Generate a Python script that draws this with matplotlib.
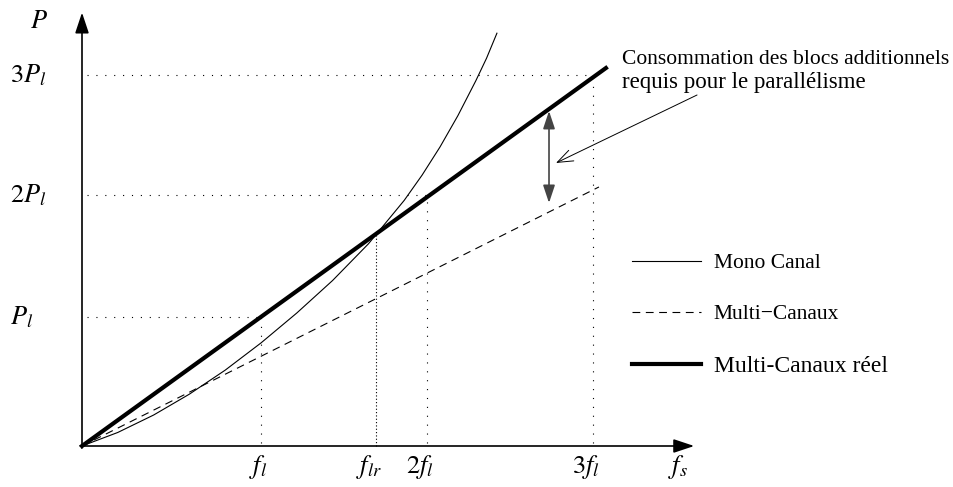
import matplotlib
matplotlib.use("Agg")
import matplotlib.pyplot as plt
import numpy as np

plt.rcParams['font.family'] = ['Liberation Serif', 'DejaVu Serif']
plt.rcParams['mathtext.fontset'] = 'stix'

# data units: f_l = 1 on x, P_l = 1 on y (schematic)
xtick_pos = [1.0, 1.642, 1.927, 2.855]
xtick_labels = ['$f_l$', '$f_{lr}$', '$2f_l$', '$3f_l$']
ytick_pos = [1.0, 1.946, 2.876]
ytick_labels = ['$P_l$', '$2P_l$', '$3P_l$']

# mono canal curve
mono_x = [0.0, 0.2, 0.4, 0.6, 0.8, 1.0, 1.2, 1.4, 1.6, 1.8, 1.9, 2.0, 2.1, 2.2, 2.26, 2.318]
mono_y = [0.0, 0.105, 0.24, 0.402, 0.588, 0.799, 1.031, 1.283, 1.567, 1.904, 2.1,
          2.318, 2.561, 2.831, 3.006, 3.2]

# multi-canaux (dashed) and multi-canaux reel (thick)
multi_x = [0.0, 2.888]
multi_y = [0.0, 2.008]
reel_x = [0.0, 2.927]
reel_y = [0.0, 2.93]

legend_labels = ['Mono Canal', 'Multi\u2212Canaux', 'Multi-Canaux réel']

fig = plt.figure(figsize=(9.54, 4.87), dpi=100)
ax = fig.add_axes([0, 0, 1, 1])
ax.set_xlim(-82 / 179, (954 - 82) / 179)
ax.set_ylim(-41 / 129, 446 / 129)
ax.axis('off')

# axes with arrows
arr = dict(arrowstyle='-|>,head_length=0.9,head_width=0.3', lw=1.2, color='k',
           mutation_scale=14, shrinkA=0, shrinkB=0)
ax.annotate('', xy=(3.42, 0), xytext=(-0.01, 0), arrowprops=arr)
ax.annotate('', xy=(0, 3.36), xytext=(0, -0.015), arrowprops=arr)

dot = dict(color='k', lw=0.8, dashes=(1, 7))
# dotted guides
guide_x = [xtick_pos[0], xtick_pos[2], xtick_pos[3]]
for xp, yp in zip(guide_x, ytick_pos):
    ax.plot([0.03, xp], [yp, yp], **dot)
for xp, yp in zip(xtick_pos, [ytick_pos[0], 1.643, ytick_pos[1], ytick_pos[2]]):
    if xp == xtick_pos[1]:
        ax.plot([xp, xp], [0, yp], color='k', lw=0.8, dashes=(1, 2))
    else:
        ax.plot([xp, xp], [0.02, yp], **dot)

# curves
l1, = ax.plot(mono_x, mono_y, color='k', lw=0.8)
l2, = ax.plot(multi_x, multi_y, color='k', lw=0.8, dashes=(7, 5))
l3, = ax.plot(reel_x, reel_y, color='k', lw=3)

# tick labels
for xp, lab in zip(xtick_pos, xtick_labels):
    ax.annotate(lab, xy=(xp, -0.16), xytext=(4.5, 0), textcoords='offset points',
                ha='right', va='center', fontsize=19)
ax.text(3.33, -0.16, '$f_s$', ha='center', va='center', fontsize=19)
for yp, lab in zip(ytick_pos, ytick_labels):
    ax.text(-0.402, yp, lab, ha='left', va='center', fontsize=19)
ax.text(-0.29, 3.29, '$P$', ha='left', va='center', fontsize=19)

# double arrow showing the gap
ax.annotate('', xy=(2.609, 1.884), xytext=(2.609, 2.597),
            arrowprops=dict(arrowstyle='<|-|>,head_length=0.9,head_width=0.3',
                            lw=1.2, color='#444444', mutation_scale=12,
                            shrinkA=0, shrinkB=0))

# annotation
ax.annotate('', xy=(2.648, 2.194), xytext=(3.436, 2.721),
            arrowprops=dict(arrowstyle='->,head_length=0.8,head_width=0.3',
                            lw=0.7, color='k', mutation_scale=14,
                            shrinkA=0, shrinkB=0))
ax.text(3.017, 3.0, 'Consommation des blocs additionnels', ha='left', va='center',
        fontsize=15.5)
ax.text(3.017, 2.815, 'requis pour le parallélisme', ha='left', va='center',
        fontsize=16.5)

leg = ax.legend([l1, l2, l3], legend_labels, loc='upper left',
                bbox_to_anchor=(632 / 954, 1 - 253 / 487), frameon=False,
                fontsize=15.5, handlelength=3.2, handletextpad=0.6,
                labelspacing=1.45, borderpad=0, borderaxespad=0)
leg.get_texts()[2].set_fontsize(17)

fig.savefig('out.png', dpi=100)
